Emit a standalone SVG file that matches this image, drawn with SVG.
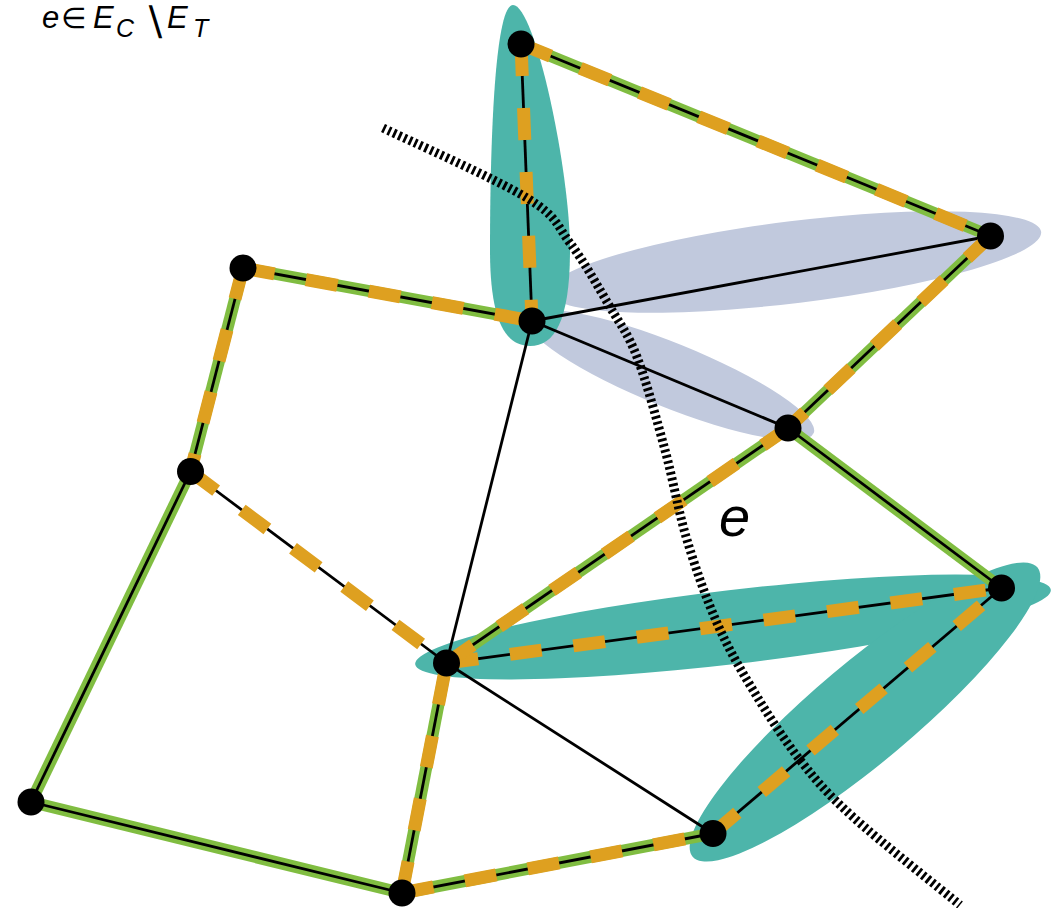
<svg xmlns="http://www.w3.org/2000/svg" width="1055" height="908" viewBox="0 0 1055 908">
<style>
.bg{fill:#ffffff}
.blue{fill:#c1c9dd}
.teal{fill:#4db5aa}
.gr{stroke:#80bd41;stroke-width:12;fill:none}
.bk{stroke:#000;stroke-width:2.8;fill:none}
.or{stroke:#dea020;stroke-width:13;fill:none;stroke-dasharray:32 32}
.cut{stroke:#000;stroke-width:9;fill:none;stroke-dasharray:2.8 3}
.node{fill:#000}
.lbl{font-family:"Liberation Sans",Arial,sans-serif;font-style:italic;fill:#000}
.sym{font-family:"DejaVu Sans","Liberation Sans",sans-serif;fill:#000}
</style>
<rect class="bg" x="0" y="0" width="1055" height="908"/>
<g id="regions">
<ellipse class="blue" cx="795" cy="262" rx="248" ry="41" transform="rotate(-7 795 262)"/>
<ellipse class="blue" cx="670" cy="375" rx="155" ry="32" transform="rotate(22 670 375)"/>
<path class="teal" d="M513,5 C535,5 570,170 570,250 C570,320 555,346 530,346 C505,346 490,320 490,250 C490,140 495,5 513,5 Z"/>
<ellipse class="teal" cx="733" cy="627" rx="320" ry="37" transform="rotate(-6.7 733 627)"/>
<ellipse class="teal" cx="865" cy="712" rx="225" ry="50" transform="rotate(-40 865 712)"/>
</g>
<g id="connectors">
<g id="green">
<path class="gr" d="M521,44 L990.5,236"/>
<path class="gr" d="M243,268 L532,321"/>
<path class="gr" d="M243,268 L190.5,471.5"/>
<path class="gr" d="M190.5,471.5 L31,802"/>
<path class="gr" d="M31,802 L402,893"/>
<path class="gr" d="M402,893 L446.5,663"/>
<path class="gr" d="M402,893 L713,833.5"/>
<path class="gr" d="M446.5,663 L788,428"/>
<path class="gr" d="M788,428 L990.5,236"/>
<path class="gr" d="M788,428 L1001.5,588"/>
</g>
<g id="black">
<path class="bk" d="M521,44 L990.5,236"/>
<path class="bk" d="M521,44 L532,321"/>
<path class="bk" d="M243,268 L532,321"/>
<path class="bk" d="M243,268 L190.5,471.5"/>
<path class="bk" d="M190.5,471.5 L31,802"/>
<path class="bk" d="M190.5,471.5 L446.5,663"/>
<path class="bk" d="M31,802 L402,893"/>
<path class="bk" d="M402,893 L446.5,663"/>
<path class="bk" d="M402,893 L713,833.5"/>
<path class="bk" d="M713,833.5 L446.5,663"/>
<path class="bk" d="M713,833.5 L1001.5,588"/>
<path class="bk" d="M446.5,663 L1001.5,588"/>
<path class="bk" d="M446.5,663 L788,428"/>
<path class="bk" d="M788,428 L990.5,236"/>
<path class="bk" d="M788,428 L1001.5,588"/>
<path class="bk" d="M532,321 L990.5,236"/>
<path class="bk" d="M532,321 L788,428"/>
<path class="bk" d="M532,321 L446.5,663"/>
</g>
<g id="tree">
<path class="or" d="M521,44 L990.5,236"/>
<path class="or" d="M521,44 L532,321"/>
<path class="or" d="M243,268 L532,321"/>
<path class="or" d="M243,268 L190.5,471.5"/>
<path class="or" d="M190.5,471.5 L446.5,663"/>
<path class="or" d="M402,893 L446.5,663"/>
<path class="or" d="M402,893 L713,833.5"/>
<path class="or" d="M713,833.5 L1001.5,588"/>
<path class="or" d="M446.5,663 L1001.5,588"/>
<path class="or" d="M446.5,663 L788,428"/>
<path class="or" d="M990.5,236 L788,428"/>
</g>
<path id="cut" class="cut" d="M383,128 C407,139.7 495.8,178.8 527,198 C558.2,217.2 556.2,224.8 570,243 C583.8,261.2 598.8,288 610,307 C621.2,326 627.8,333.2 637,357 C646.2,380.8 656.7,419.5 665,450 C673.3,480.5 678.3,511.2 687,540 C695.7,568.8 706,598 717,623 C728,648 739.2,667.2 753,690 C766.8,712.8 783.3,738.8 800,760 C816.7,781.2 826.3,792.8 853,817 C879.7,841.2 942.2,890.3 960,905"/>
</g>
<g id="nA"><circle class="node" cx="521" cy="44" r="13.5"/></g>
<g id="nB"><circle class="node" cx="990.5" cy="236" r="13.5"/></g>
<g id="nC"><circle class="node" cx="243" cy="268" r="13.5"/></g>
<g id="nD"><circle class="node" cx="532" cy="321" r="13.5"/></g>
<g id="nE"><circle class="node" cx="788" cy="428" r="13.5"/></g>
<g id="nF"><circle class="node" cx="190.5" cy="471.5" r="13.5"/></g>
<g id="nG"><circle class="node" cx="1001.5" cy="588" r="13.5"/></g>
<g id="nH"><circle class="node" cx="446.5" cy="663" r="13.5"/></g>
<g id="nI"><circle class="node" cx="31" cy="802" r="13.5"/></g>
<g id="nJ"><circle class="node" cx="713" cy="833.5" r="13.5"/></g>
<g id="nK"><circle class="node" cx="402" cy="893" r="13.5"/></g>
<g id="labels">
<text class="lbl" x="42" y="28" font-size="31">e</text>
<text class="sym" x="61" y="28" font-size="29">∈</text>
<text class="lbl" x="93" y="28" font-size="31">E</text>
<text class="lbl" x="116" y="37" font-size="25">C</text>
<text class="sym" x="141" y="36" font-size="40">∖</text>
<text class="lbl" x="167" y="28" font-size="31">E</text>
<text class="lbl" x="193" y="37" font-size="25">T</text>
<text class="lbl" x="719" y="536" font-size="56">e</text>
</g>
</svg>
